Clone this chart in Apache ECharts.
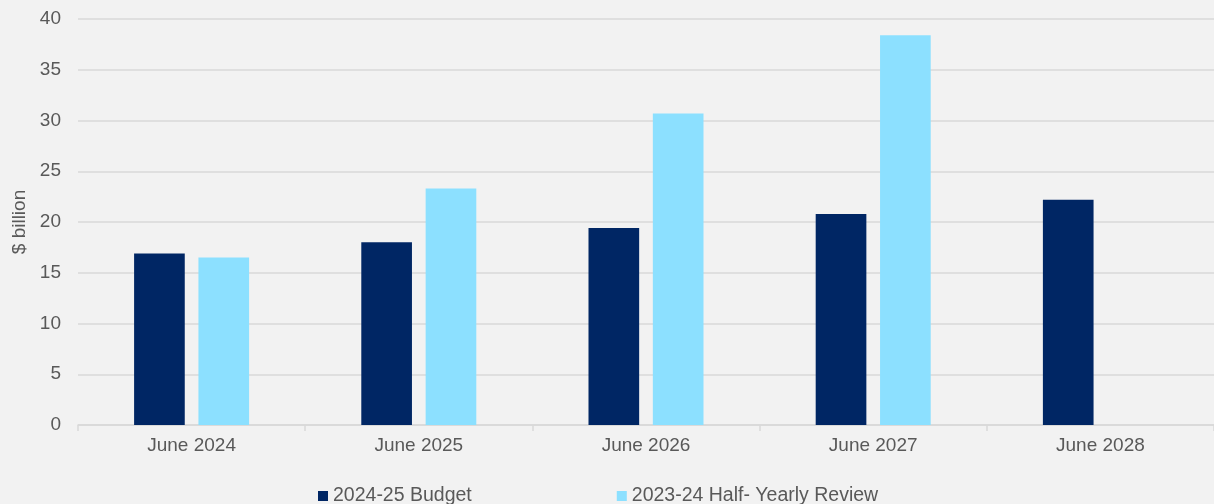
<!DOCTYPE html>
<html>
<head>
<meta charset="utf-8">
<script src="https://cdn.jsdelivr.net/npm/echarts@6/dist/echarts.min.js"></script>
<style>
  html, body { margin: 0; padding: 0; background: #f2f2f2; }
  #chart { width: 1214px; height: 504px; }
</style>
</head>
<body>
<div id="chart"></div>
<script>
const categories = ['June 2024', 'June 2025', 'June 2026', 'June 2027', 'June 2028'];
const budget2024 = [16.9, 18.0, 19.4, 20.8, 22.2];
const myefo2023 = [16.5, 23.3, 30.7, 38.4, null];
const seriesNames = ['2024-25 Budget', '2023-24 Half- Yearly Review'];
const yTicks = { min: 0, max: 40, interval: 5 };

const font = '"Liberation Sans", Arial, sans-serif';
const chart = echarts.init(document.getElementById('chart'), null, { renderer: 'canvas' });
chart.setOption({
  backgroundColor: '#f2f2f2',
  animation: false,
  grid: { left: 78, right: 0, top: 19, bottom: 79, containLabel: false },
  legend: {
    data: seriesNames,
    left: 313,
    top: 481,
    itemWidth: 10,
    itemHeight: 10,
    itemGap: 145,
    icon: 'rect',
    textStyle: { color: '#595959', fontSize: 19.5, fontFamily: font, lineHeight: 20, padding: [0, 0, 0, 0] }
  },
  xAxis: {
    type: 'category',
    data: categories,
    axisLine: { show: true, lineStyle: { color: '#d9d9d9', width: 1.5 } },
    axisTick: { show: true, length: 6, lineStyle: { color: '#d9d9d9', width: 1.5 } },
    axisLabel: { color: '#595959', fontSize: 19, fontFamily: font, margin: 11 }
  },
  yAxis: {
    type: 'value',
    min: yTicks.min,
    max: yTicks.max,
    interval: yTicks.interval,
    name: '$ billion',
    nameLocation: 'middle',
    nameGap: 49,
    nameTextStyle: { color: '#595959', fontSize: 19, fontFamily: font },
    axisLine: { show: false },
    axisTick: { show: false },
    axisLabel: { color: '#595959', fontSize: 19, fontFamily: font, margin: 17 },
    splitLine: { lineStyle: { color: '#d9d9d9', width: 1.5 } }
  },
  series: [
    {
      name: seriesNames[0],
      type: 'bar',
      data: budget2024,
      barWidth: '22.3%',
      barGap: '27%',
      itemStyle: { color: '#002664' }
    },
    {
      name: seriesNames[1],
      type: 'bar',
      data: myefo2023,
      barWidth: '22.3%',
      itemStyle: { color: '#8ce0ff' }
    }
  ]
});
</script>
</body>
</html>
